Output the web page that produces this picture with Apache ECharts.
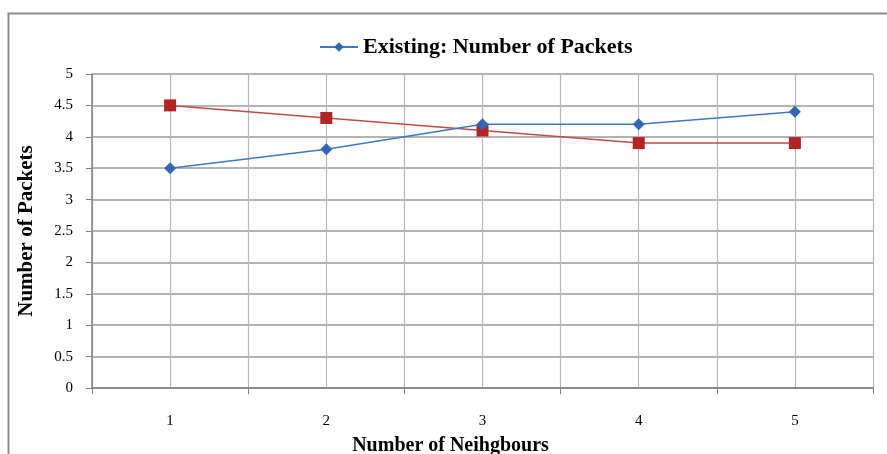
<!DOCTYPE html>
<html>
<head>
<meta charset="utf-8">
<script src="https://cdn.jsdelivr.net/npm/echarts@6/dist/echarts.min.js"></script>
<style>html,body{margin:0;padding:0;background:#fff}#c{width:887px;height:454px}</style>
</head>
<body>
<div id="c"></div>
<script>
var categories = ['1', '2', '3', '4', '5'];
var existingValues = [3.5, 3.8, 4.2, 4.2, 4.4];
var proposedValues = [4.5, 4.3, 4.1, 3.9, 3.9];
var existingName = 'Existing: Number of Packets';
var proposedName = 'Proposed: Number of Packets';
var xTitle = 'Number of Neihgbours';
var yTitle = 'Number of Packets';

var halfCats = [];
categories.forEach(function () { halfCats.push('', ''); });

var serif = '"Liberation Serif", "Times New Roman", serif';
var chart = echarts.init(document.getElementById('c'), null, {renderer: 'canvas'});
chart.setOption({
  animation: false,
  backgroundColor: '#fff',
  graphic: [{
    type: 'rect', shape: {x: 8.5, y: 13.5, width: 900, height: 500},
    style: {fill: 'none', stroke: '#8c8c8c', lineWidth: 2}, silent: true, z: -1
  }],
  legend: {
    data: [existingName],
    top: 31, left: 314,
    itemWidth: 38, itemHeight: 12,
    textStyle: {fontFamily: serif, fontSize: 22, fontWeight: 'bold', color: '#000'}
  },
  grid: {left: 92, right: 14, top: 74, bottom: 66, outerBoundsMode: 'none', containLabel: false},
  xAxis: [{
    type: 'category', data: categories, boundaryGap: true,
    name: xTitle, nameLocation: 'middle', nameGap: 48,
    nameTextStyle: {fontFamily: serif, fontSize: 20, fontWeight: 'bold', color: '#000', padding: [0, 64, 0, 0]},
    axisLine: {lineStyle: {color: '#808080', width: 1.5}},
    axisTick: {show: true, length: 6, lineStyle: {color: '#808080'}},
    axisLabel: {fontFamily: serif, fontSize: 15, color: '#000', margin: 26},
    splitLine: {show: false}
  }, {
    type: 'category', data: halfCats, boundaryGap: true, position: 'bottom',
    axisLine: {show: false}, axisTick: {show: false}, axisLabel: {show: false},
    splitLine: {show: true, lineStyle: {color: '#b8b8b8', width: 1.2}}
  }],
  yAxis: {
    type: 'value', min: 0, max: 5, interval: 0.5,
    name: yTitle, nameLocation: 'middle', nameGap: 55, nameRotate: 90,
    nameTextStyle: {fontFamily: serif, fontSize: 21, fontWeight: 'bold', color: '#000'},
    axisLine: {show: true, lineStyle: {color: '#808080', width: 1.5}},
    axisTick: {show: true, length: 6, lineStyle: {color: '#808080'}},
    axisLabel: {fontFamily: serif, fontSize: 15, color: '#000', margin: 19},
    splitLine: {show: true, lineStyle: {color: '#9a9a9a', width: 1.5}}
  },
  series: [{
    name: proposedName, type: 'line', data: proposedValues, xAxisIndex: 0,
    symbol: 'rect', symbolSize: 12,
    lineStyle: {color: '#c44a47', width: 1.5},
    itemStyle: {color: '#b52424'}
  }, {
    name: existingName, type: 'line', data: existingValues, xAxisIndex: 0,
    symbol: 'diamond', symbolSize: 12,
    lineStyle: {color: '#3f78c2', width: 1.5},
    itemStyle: {color: '#2f66b8'}
  }]
});
</script>
</body>
</html>
